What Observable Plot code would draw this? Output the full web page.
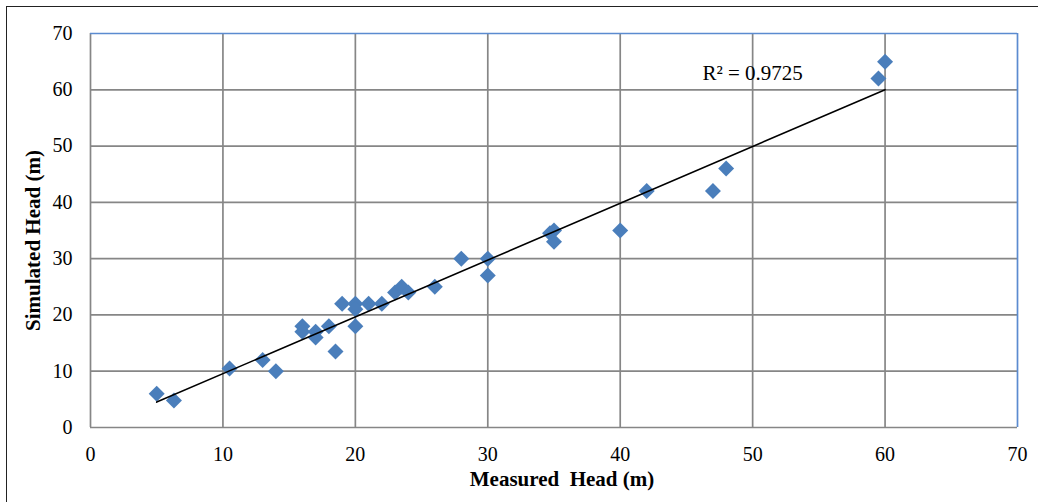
<!DOCTYPE html>
<html><head><meta charset="utf-8">
<script src="https://cdn.jsdelivr.net/npm/d3@7"></script>
<script src="https://cdn.jsdelivr.net/npm/@observablehq/plot@0.6"></script>
<style>
body{margin:0;background:#fff;}
#wrap{position:relative;width:1038px;height:502px;overflow:hidden;background:#fff;}
#frame{position:absolute;left:6px;top:6px;width:1100px;height:600px;border-left:1.5px solid #222;border-top:1.5px solid #222;pointer-events:none;}
</style></head><body><div id="wrap"><div id="chart"></div><div id="frame"></div></div>
<script>
const measured  = [5, 6.3, 10.5, 13, 14, 16, 16, 17, 17, 18, 18.5, 19, 20, 20, 20, 21, 22, 23, 23.5, 24, 26, 28, 30, 30, 34.7, 35, 35, 40, 42, 47, 48, 59.5, 60];
const simulated = [6, 4.8, 10.5, 12, 10, 18, 17, 17, 16, 18, 13.5, 22, 22, 21, 18, 22, 22, 24, 25, 24, 25, 30, 30, 27, 34.5, 35, 33, 35, 42, 42, 46, 62, 65];
const ticks = [0, 10, 20, 30, 40, 50, 60, 70];
const r2Label = "R\u00b2 = 0.9725";
const xTitle = "Measured  Head (m)";
const yTitle = "Simulated Head (m)";

const data = measured.map((m, i) => ({m, s: simulated[i]}));
const gray = "#868686", blue = "#5b8bd0";
const inner = ticks.filter(t => t > 0 && t < 70);

const chart = Plot.plot({
  width: 1038, height: 502,
  marginLeft: 90, marginRight: 21, marginTop: 33, marginBottom: 75,
  style: {fontFamily: "'Liberation Serif', 'Times New Roman', serif", fontSize: "20px", color: "#000", background: "transparent"},
  x: {domain: [0, 70], ticks},
  y: {domain: [0, 70], ticks},
  marks: [
    Plot.ruleX(inner, {stroke: gray, strokeWidth: 1.7}),
    Plot.ruleY(inner, {stroke: gray, strokeWidth: 1.7}),
    Plot.ruleX([0], {stroke: gray, strokeWidth: 1.7}),
    Plot.ruleY([0], {stroke: gray, strokeWidth: 1.7}),
    Plot.ruleX([70], {stroke: blue, strokeWidth: 1.7}),
    Plot.ruleY([70], {stroke: blue, strokeWidth: 1.7}),
    Plot.axisX({ticks, tickSize: 0, tickPadding: 19, label: null, fontSize: 20}),
    Plot.axisY({ticks, tickSize: 0, tickPadding: 18, label: null, fontSize: 20}),
    Plot.dot(data, {x: "m", y: "s", symbol: "diamond2", r: 7.2, fill: "#4a7ebb", stroke: "none"}),
    Plot.linearRegressionY(data, {x: "m", y: "s", ci: 0, stroke: "#000", strokeWidth: 1.6}),
    Plot.text([r2Label], {x: 50, y: 63, text: d => d, fontSize: 21, fill: "#000"}),
    Plot.text([xTitle], {frameAnchor: "bottom", dx: 8, dy: 58, text: d => d, fontSize: 21, fontWeight: "bold", fill: "#000"}),
    Plot.text([yTitle], {frameAnchor: "left", textAnchor: "middle", dx: -57, dy: 10, rotate: -90, text: d => d, fontSize: 21, fontWeight: "bold", fill: "#000"})
  ]
});
document.getElementById("chart").appendChild(chart);
</script>
</body></html>
